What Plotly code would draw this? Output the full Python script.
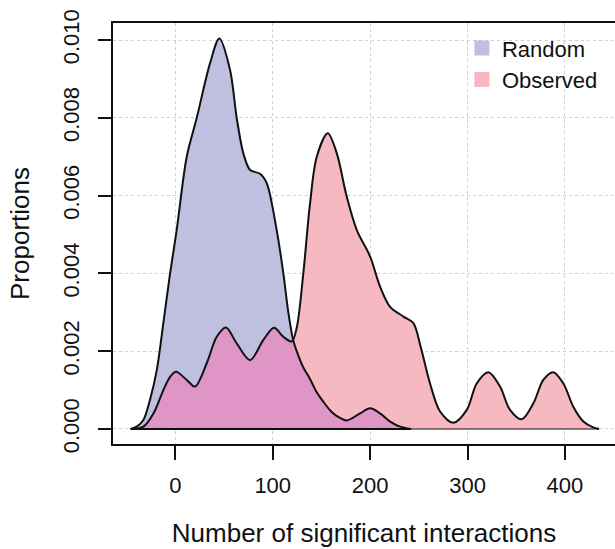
import plotly.graph_objects as go

# ---- data ----
random_x = [-46, -39.6, -32.8, -26, -19, -12.3, -5.4, 1.4, 11.7, 22, 35.6, 45.2, 56.2, 63, 69.8,
            76.7, 87, 93.8, 104, 110.9, 116, 121, 124.6, 131, 138, 145, 152, 160, 168, 176,
            189.6, 200, 210.2, 220.5, 230.7, 242]
random_y = [0, 0.00006, 0.00023, 0.00075, 0.00152, 0.00272, 0.0040, 0.00512, 0.0070, 0.0080,
            0.0094, 0.01004, 0.00923, 0.0080, 0.00709, 0.00666, 0.00656, 0.00632, 0.00512,
            0.0040, 0.0030, 0.00228, 0.0020, 0.0016, 0.0013, 0.00095, 0.0007, 0.00045, 0.0003,
            0.00022, 0.0004, 0.00053, 0.0004, 0.00019, 0.00006, 0]

observed_x = [-45, -32.8, -22.5, -12.3, -5.4, 0.7, 11.7, 20.2, 32.2, 42.5, 52, 63, 76.7, 90.4,
              101.3, 110.9, 119.5, 124.6, 131.4, 138.3, 145.2, 156.5, 165.7, 176, 186.2, 200,
              210.2, 220.5, 234.2, 244.4, 252, 261.5, 271.8, 285.5, 299.2, 309.4, 321.4, 333.4,
              343.6, 355.6, 367.6, 377.8, 388, 398.4, 408.6, 418.9, 429, 435]
observed_y = [0, 0.00006, 0.0004, 0.001, 0.00134, 0.00147, 0.00126, 0.00109, 0.00169, 0.00237,
              0.00261, 0.0022, 0.00177, 0.00229, 0.0026, 0.00237, 0.00225, 0.0026, 0.0040, 0.0058,
              0.0070, 0.0076, 0.00709, 0.00597, 0.00512, 0.00443, 0.00366, 0.00314, 0.00289,
              0.00272, 0.0021, 0.00117, 0.00045, 0.00016, 0.00049, 0.00117, 0.00146, 0.00109,
              0.00049, 0.00025, 0.00066, 0.00126, 0.00146, 0.00117, 0.00057, 0.00019, 0.00004, 0]

crossing_x = 121  # where the two density curves intersect

x_ticks = [0, 100, 200, 300, 400]
y_ticks = [0.000, 0.002, 0.004, 0.006, 0.008, 0.010]
y_tick_labels = ["0.000", "0.002", "0.004", "0.006", "0.008", "0.010"]

series_names = ["Random", "Observed"]

LAV = "#bfbfe0"
PINK = "#f6b8c1"
MAG = "#df96c6"
FONT = "Liberation Sans, Arial, Helvetica, sans-serif"

# overlap region = observed before the crossing, random after it
ov_x = [x for x in observed_x if x < crossing_x] + [x for x in random_x if x > crossing_x]
ov_y = [y for x, y in zip(observed_x, observed_y) if x < crossing_x] + \
       [y for x, y in zip(random_x, random_y) if x > crossing_x]

fig = go.Figure()
spline = dict(shape="spline", smoothing=0.9)

fig.add_trace(go.Scatter(x=observed_x, y=observed_y, mode="lines", fill="tozeroy",
                         fillcolor=PINK, line=dict(width=0, **spline), showlegend=False,
                         hoverinfo="skip"))
fig.add_trace(go.Scatter(x=random_x, y=random_y, mode="lines", fill="tozeroy",
                         fillcolor=LAV, line=dict(width=0, **spline), showlegend=False,
                         hoverinfo="skip"))
fig.add_trace(go.Scatter(x=ov_x, y=ov_y, mode="lines", fill="tozeroy",
                         fillcolor=MAG, line=dict(width=0, **spline), showlegend=False,
                         hoverinfo="skip"))
# outlines
fig.add_trace(go.Scatter(x=random_x, y=random_y, mode="lines",
                         line=dict(color="#111111", width=2, **spline), showlegend=False))
fig.add_trace(go.Scatter(x=observed_x, y=observed_y, mode="lines",
                         line=dict(color="#111111", width=2, **spline), showlegend=False))
# polygon bottom edges
fig.add_trace(go.Scatter(x=[random_x[0], random_x[-1]], y=[random_y[0], random_y[-1]],
                         mode="lines", line=dict(color="#111111", width=1.8), showlegend=False))
fig.add_trace(go.Scatter(x=[observed_x[0], observed_x[-1]], y=[observed_y[0], observed_y[-1]],
                         mode="lines", line=dict(color="#111111", width=1.2), showlegend=False))

# legend entries
for name, col in zip(series_names, [LAV, PINK]):
    fig.add_trace(go.Scatter(x=[None], y=[None], mode="markers", name=name,
                             marker=dict(symbol="square", size=15, color=col)))

fig.update_layout(
    width=615, height=549,
    margin=dict(l=113, r=0, t=23, b=105),
    paper_bgcolor="white", plot_bgcolor="white",
    font=dict(family=FONT, size=22, color="#111111"),
    showlegend=True,
    legend=dict(x=0.695, xanchor="left", y=0.99, yanchor="top",
                bgcolor="rgba(0,0,0,0)", font=dict(size=22), tracegroupgap=0,
                itemsizing="trace"),
)
fig.update_xaxes(
    range=[-64, 451.4], tickvals=x_ticks, ticks="outside", ticklen=14, tickwidth=1.5,
    tickcolor="#111111", showline=True, linecolor="#111111", linewidth=1.8, mirror=True,
    showgrid=True, gridcolor="#cfcfcf", griddash="dot", gridwidth=1, zeroline=False,
    title=dict(text="Number of significant interactions", standoff=27),
    ticklabelstandoff=7, layer="above traces",
)
fig.update_yaxes(
    range=[-0.000386, 0.010437], tickvals=y_ticks, ticktext=y_tick_labels, ticks="outside",
    ticklen=13, tickwidth=1.5, tickcolor="#111111", showline=True, linecolor="#111111",
    linewidth=1.8, mirror=False, showgrid=True, gridcolor="#cfcfcf", griddash="dot",
    gridwidth=1, zeroline=False, tickangle=-90,
    title=dict(text="Proportions", standoff=22), ticklabelstandoff=10, layer="above traces",
)

fig.write_html(
    "out.html",
    config={"displayModeBar": False},
    post_script="document.body.style.margin='0';document.body.style.overflow='hidden';",
)
